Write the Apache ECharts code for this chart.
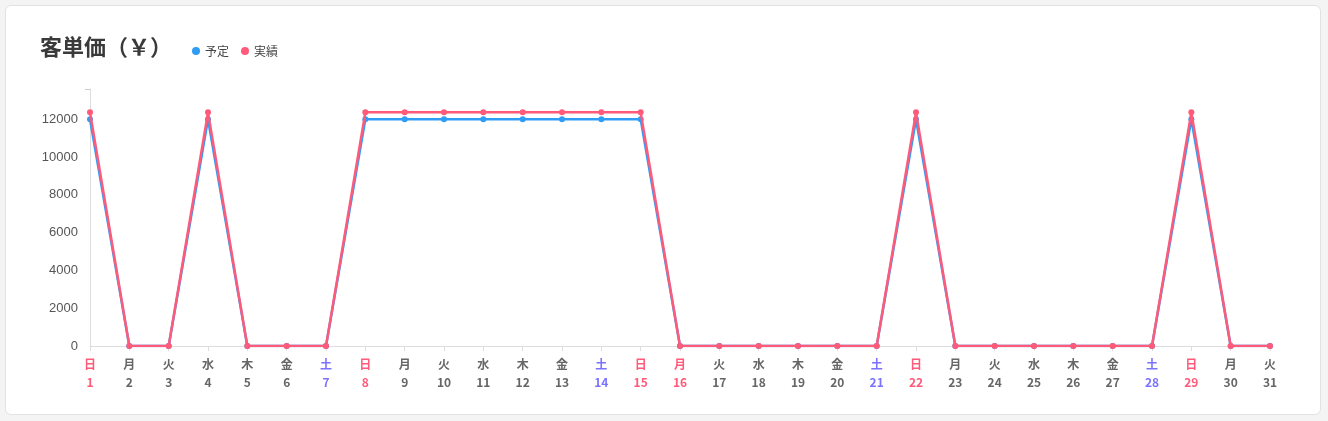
<!DOCTYPE html>
<html><head><meta charset="utf-8">
<script src="https://cdn.jsdelivr.net/npm/echarts@6/dist/echarts.min.js"></script>
<style>
html,body{margin:0;padding:0;background:#f4f4f4;width:1328px;height:421px;overflow:hidden;font-family:"Noto Sans CJK JP","Noto Sans",sans-serif;}
#card{position:absolute;left:5px;top:5px;width:1314px;height:408px;background:#fff;border:1px solid #e2e2e2;border-radius:6px;}
#c{position:absolute;left:0;top:0;width:1328px;height:421px;}
</style></head><body>
<div id="card"></div>
<div id="c"></div>
<script>
const days = ['1','2','3','4','5','6','7','8','9','10','11','12','13','14','15','16','17','18','19','20','21','22','23','24','25','26','27','28','29','30','31'];
const weekdays = ['日','月','火','水','木','金','土','日','月','火','水','木','金','土','日','月','火','水','木','金','土','日','月','火','水','木','金','土','日','月','火'];
const holidays = ['16'];
const plan = [12000,0,0,12000,0,0,0,12000,12000,12000,12000,12000,12000,12000,12000,0,0,0,0,0,0,12000,0,0,0,0,0,0,12000,0,0];
const actual = [12370,0,0,12370,0,0,0,12370,12370,12370,12370,12370,12370,12370,12370,0,0,0,0,0,0,12370,0,0,0,0,0,0,12370,0,0];
const yTicks = [0,2000,4000,6000,8000,10000,12000];

const yMax = Math.max(...plan, ...actual) * 1.1;
const chart = echarts.init(document.getElementById('c'), null, {renderer:'canvas'});
const catIdx = {};
days.forEach((d,i)=>catIdx[d]=i);
chart.setOption({
  backgroundColor:'transparent',
  animation:false,
  title:{text:'客単価（￥）', left:35, top:31, textStyle:{fontSize:22, fontWeight:'bold', color:'#3a3a3a', fontFamily:'"Noto Sans CJK JP"'}},
  legend:{left:187, top:40, icon:'circle', itemWidth:8, itemHeight:8, itemGap:12,
    textStyle:{fontSize:12, color:'#444', fontFamily:'"Noto Sans CJK JP"'}, data:['予定','実績']},
  grid:{left:90, right:58, top:89, bottom:75, containLabel:false},
  xAxis:{type:'category', data:days, boundaryGap:false,
    axisLine:{lineStyle:{color:'#dddddd'}},
    axisTick:{show:true, alignWithLabel:true, length:5, lineStyle:{color:'#dddddd'}},
    axisLabel:{interval:0, margin:9,
      formatter:(v)=>{const i=catIdx[v]; const w=weekdays[i]; const s=(w==='日'||holidays.includes(v))?'sun':(w==='土'?'sat':'wd'); return '{'+s+'|'+w+'}\n{'+s+'|'+v+'}';},
      rich:{
        sun:{color:'#ff5a7a', fontSize:12, fontWeight:'bold', lineHeight:18, fontFamily:'"Noto Sans CJK JP"'},
        sat:{color:'#7b73ff', fontSize:12, fontWeight:'bold', lineHeight:18, fontFamily:'"Noto Sans CJK JP"'},
        wd:{color:'#666', fontSize:12, fontWeight:'bold', lineHeight:18, fontFamily:'"Noto Sans CJK JP"'}
      }},
    splitLine:{show:false}
  },
  yAxis:{type:'value', min:0, max:yMax, interval:2000,
    axisLine:{show:true, lineStyle:{color:'#dddddd'}},
    axisTick:{show:true, length:5, customValues:[yMax], lineStyle:{color:'#cccccc'}},
    axisLabel:{color:'#555', fontSize:13, margin:12, customValues:yTicks, formatter:(v)=>String(v), fontFamily:'"Liberation Sans","Noto Sans"'},
    splitLine:{show:true, showMaxLine:false, lineStyle:{color:'#e6e6e6'}}
  },
  series:[
    {name:'予定', type:'line', data:plan, symbol:'circle', symbolSize:6, color:'#2f9cf5',
      lineStyle:{width:2.5, color:'#2f9cf5'}, itemStyle:{color:'#2f9cf5'}, z:2},
    {name:'実績', type:'line', data:actual, symbol:'circle', symbolSize:6, color:'#ff5a7a',
      lineStyle:{width:2.5, color:'#ff5a7a'}, itemStyle:{color:'#ff5a7a'}, z:3}
  ]
});
</script>
</body></html>
